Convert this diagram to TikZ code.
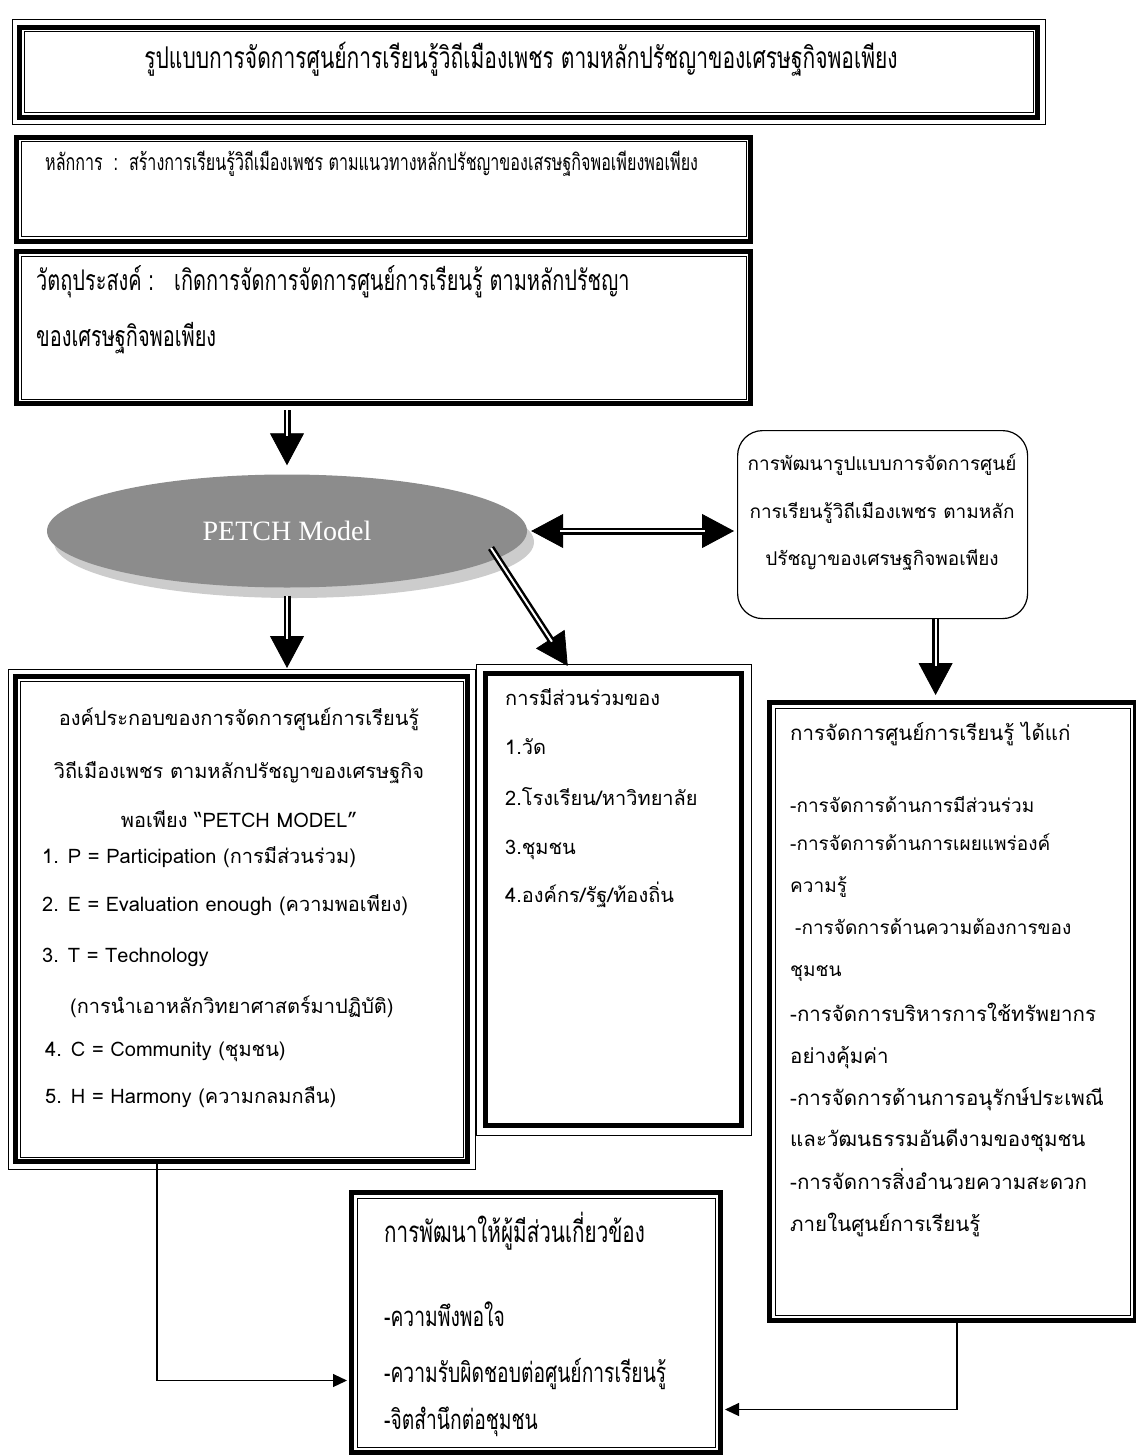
\documentclass[tikz,border=0pt]{standalone}
\usepackage{fontspec}
\usetikzlibrary{shapes.geometric,arrows.meta,calc}
\newfontfamily\thai[Script=Thai]{Loma}
\newfontfamily\thaic[Script=Thai,FakeStretch=0.7]{Loma}
\newfontfamily\tnr{Liberation Serif}
\newcommand\myinbox[2]{\draw[thinline] ([shift={(#2,-#2)}]#1.north west) rectangle ([shift={(-#2,#2)}]#1.south east);}
\newcommand\myoutbox[2]{\draw[thinline] ([shift={(-#2,#2)}]#1.north west) rectangle ([shift={(#2,-#2)}]#1.south east);}
\begin{document}
\begin{tikzpicture}[x=1pt,y=-1pt]
\tikzset{
 thickbox/.style={draw, line width=5pt, rectangle, anchor=north west, inner sep=0pt},
 thinline/.style={line width=1pt},
 txt/.style={inner sep=0pt, anchor=west, text height=0.75em, text depth=0.25em},
 ctxt/.style={inner sep=0pt, anchor=center, text height=0.75em, text depth=0.25em},
 tipline/.style={line width=0.8pt, -{Triangle[length=32pt,width=34pt]}},
 dtipline/.style={line width=0.8pt, {Triangle[length=32pt,width=34pt]}-{Triangle[length=32pt,width=34pt]}},
 shaft/.style={line width=2.5pt, double=white, double distance=2pt},
 conn/.style={line width=1.2pt, -{Triangle[length=14pt,width=13pt]}},
 ftitle/.style={font=\thaic\fontsize{30}{30}\selectfont},
 fprinc/.style={font=\thaic\fontsize{23}{23}\selectfont},
 fobj/.style={font=\thaic\fontsize{28.5}{28.5}\selectfont},
 fdev/.style={font=\thai\fontsize{19}{19}\selectfont},
 fleft/.style={font=\thai\fontsize{20}{20}\selectfont},
 fright/.style={font=\thai\fontsize{19}{19}\selectfont},
 frightb/.style={font=\thai\fontsize{20.5}{20.5}\selectfont},
 fbott/.style={font=\thaic\fontsize{29.5}{29.5}\selectfont},
 fbot/.style={font=\thaic\fontsize{27.5}{27.5}\selectfont},
}
\useasboundingbox[fill=white] (0,0) rectangle (1135,1455);

% boxes
\node[thickbox, minimum width=1018pt, minimum height=90pt] (title) at (17,25) {};
\myinbox{title}{7pt}\myoutbox{title}{5pt}
\node[thickbox, minimum width=734pt, minimum height=104pt] (princ) at (14,135) {};
\myinbox{princ}{7pt}
\node[thickbox, minimum width=734pt, minimum height=152pt] (obj) at (14,249) {};
\myinbox{obj}{7pt}
\node[thickbox, minimum width=452pt, minimum height=485pt] (comp) at (13,674) {};
\myinbox{comp}{7pt}\myoutbox{comp}{5pt}
\node[thickbox, minimum width=256pt, minimum height=452pt] (part) at (483,671) {};
\myoutbox{part}{7pt}
\node[thickbox, minimum width=366pt, minimum height=618pt] (mgmt) at (767,700) {};
\myinbox{mgmt}{8pt}
\node[thickbox, minimum width=369pt, minimum height=260pt] (stake) at (349,1190) {};
\myinbox{stake}{8pt}
\node[draw, line width=1.2pt, rounded corners=25pt, anchor=north west, minimum width=290pt, minimum height=188pt, inner sep=0pt] (dev) at (737,430) {};

% ellipse
\fill[black!20] (294,542) ellipse [x radius=240pt, y radius=56pt];
\node[ellipse, fill=black!45, minimum width=480pt, minimum height=113pt, inner sep=0pt, text=white, font=\tnr\fontsize{28}{28}\selectfont] (ell) at (287,531) {PETCH Model};

% texts
\node[ctxt, ftitle] (ttitle) at (521,66) {รูปแบบการจัดการศูนย์การเรียนรู้วิถีเมืองเพชร ตามหลักปรัชญาของเศรษฐกิจพอเพียง};
\node[txt, fprinc] (tprinc) at (45,168) {หลักการ~~:~~สร้างการเรียนรู้วิถีเมืองเพชร ตามแนวทางหลักปรัชญาของเสรษฐกิจพอเพียงพอเพียง};
\node[txt, fobj] (tobj1) at (36,288) {วัตถุประสงค์ :~~~เกิดการจัดการจัดการศูนย์การเรียนรู้ ตามหลักปรัชญา};
\node[txt, fobj] (tobj2) at (36,344) {ของเศรษฐกิจพอเพียง};

\node[ctxt, fdev] (tdev1) at (882,468) {การพัฒนารูปแบบการจัดการศูนย์};
\node[ctxt, fdev] (tdev2) at (882,516) {การเรียนรู้วิถีเมืองเพชร ตามหลัก};
\node[ctxt, fdev] (tdev3) at (882,563) {ปรัชญาของเศรษฐกิจพอเพียง};

\node[ctxt, fleft] (tc1) at (239,723) {องค์ประกอบของการจัดการศูนย์การเรียนรู้};
\node[ctxt, fleft] (tc2) at (239,776) {วิถีเมืองเพชร ตามหลักปรัชญาของเศรษฐกิจ};
\node[ctxt, fleft] (tc3) at (239,825) {พอเพียง “PETCH MODEL”};
\node[txt, fleft] (tc4) at (42,861) {1. P = Participation (การมีส่วนร่วม)};
\node[txt, fleft] (tc5) at (42,909) {2. E = Evaluation enough (ความพอเพียง)};
\node[txt, fleft] (tc6) at (42,960) {3. T = Technology};
\node[txt, fleft] (tc7) at (70,1011) {(การนำเอาหลักวิทยาศาสตร์มาปฏิบัติ)};
\node[txt, fleft] (tc8) at (45,1054) {4. C = Community (ชุมชน)};
\node[txt, fleft] (tc9) at (45,1101) {5. H = Harmony (ความกลมกลืน)};

\node[txt, fleft] (tp1) at (505,703) {การมีส่วนร่วมของ};
\node[txt, fleft] (tp2) at (505,752) {1.วัด};
\node[txt, fleft] (tp3) at (505,803) {2.โรงเรียน/หาวิทยาลัย};
\node[txt, fleft] (tp4) at (505,852) {3.ชุมชน};
\node[txt, fleft] (tp5) at (505,900) {4.องค์กร/รัฐ/ท้องถิ่น};

\node[txt, frightb] (tm0) at (790,738) {การจัดการศูนย์การเรียนรู้ ได้แก่};
\node[txt, fright] (tm1) at (790,810) {-การจัดการด้านการมีส่วนร่วม};
\node[txt, fright] (tm2) at (790,848) {-การจัดการด้านการเผยแพร่องค์};
\node[txt, fright] (tm3) at (790,890) {ความรู้};
\node[txt, fright] (tm4) at (795,932) {-การจัดการด้านความต้องการของ};
\node[txt, fright] (tm5) at (790,974) {ชุมชน};
\node[txt, frightb] (tm6) at (790,1019) {-การจัดการบริหารการใช้ทรัพยากร};
\node[txt, frightb] (tm7) at (790,1061) {อย่างคุ้มค่า};
\node[txt, frightb] (tm8) at (790,1103) {-การจัดการด้านการอนุรักษ์ประเพณี};
\node[txt, frightb] (tm9) at (790,1144) {และวัฒนธรรมอันดีงามของชุมชน};
\node[txt, frightb] (tm10) at (790,1187) {-การจัดการสิ่งอำนวยความสะดวก};
\node[txt, frightb] (tm11) at (790,1229) {ภายในศูนย์การเรียนรู้};

\node[txt, fbott] (ts0) at (384,1240) {การพัฒนาให้ผู้มีส่วนเกี่ยวข้อง};
\node[txt, fbot] (ts1) at (384,1324) {-ความพึงพอใจ};
\node[txt, fbot] (ts2) at (384,1380) {-ความรับผิดชอบต่อศูนย์การเรียนรู้};
\node[txt, fbot] (ts3) at (384,1427) {-จิตสำนึกต่อชุมชน};

% big arrows
\draw[tipline, shorten >=9pt] ([yshift=-4pt]obj.south -| ell.north) -- (ell.north);
\draw[shaft, shorten >=38pt] ([yshift=-4pt]obj.south -| ell.north) -- (ell.north);
\draw[tipline, shorten <=8pt, shorten >=6pt] (ell.south) -- (ell.south |- comp.north);
\draw[shaft, shorten <=8pt, shorten >=35pt] (ell.south) -- (ell.south |- comp.north);
\coordinate (dstart) at ($(ell.center)+(204,17)$);
\draw[tipline, shorten >=6pt] (dstart) -- ([xshift=88pt]part.north west);
\draw[shaft, shorten >=35pt] (dstart) -- ([xshift=88pt]part.north west);
\draw[dtipline, shorten <=4pt, shorten >=3pt] (ell.east) -- (ell.east -| dev.west);
\draw[shaft, shorten <=33pt, shorten >=32pt] (ell.east) -- (ell.east -| dev.west);
\draw[tipline, shorten >=5pt] ([xshift=53pt]dev.south) -- ([xshift=53pt]dev.south |- mgmt.north);
\draw[shaft, shorten >=34pt] ([xshift=53pt]dev.south) -- ([xshift=53pt]dev.south |- mgmt.north);

% thin connectors
\draw[conn, shorten >=2pt] ([xshift=144pt]comp.south west) |- ([yshift=-58pt]stake.west);
\draw[conn, shorten >=2pt] ([xshift=190pt]mgmt.south west) |- ([yshift=-87pt]stake.east);
\end{tikzpicture}
\end{document}
